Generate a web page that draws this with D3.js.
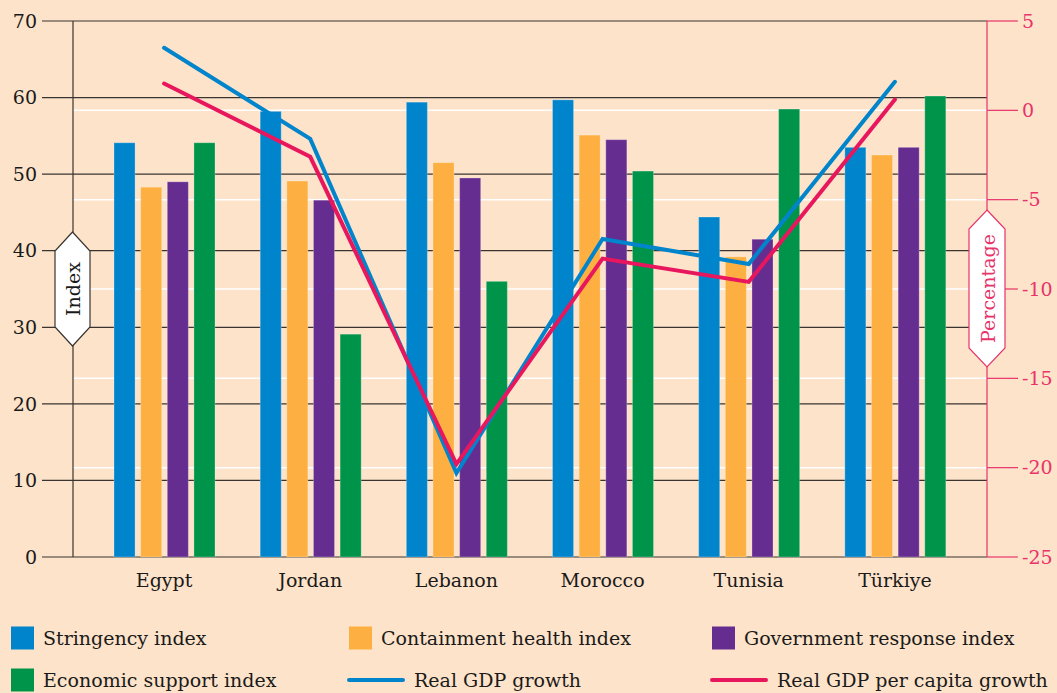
<!DOCTYPE html>
<html>
<head>
<meta charset="utf-8">
<script src="https://cdn.jsdelivr.net/npm/d3@7"></script>
<style>
  html, body { margin: 0; padding: 0; background: #fde3c9; }
  svg text { font-family: "DejaVu Serif", serif; }
</style>
</head>
<body>
<div id="chart"></div>
<script>
// data
var countries = ["Egypt", "Jordan", "Lebanon", "Morocco", "Tunisia", "Türkiye"];
var seriesNames = ["Stringency index", "Containment health index", "Government response index", "Economic support index"];
var stringency  = [54.1, 58.2, 59.4, 59.7, 44.4, 53.5];
var containment = [48.3, 49.1, 51.5, 55.1, 39.2, 52.5];
var government  = [49.0, 46.6, 49.5, 54.5, 41.5, 53.5];
var economic    = [54.1, 29.1, 36.0, 50.4, 58.5, 60.2];
var gdpGrowth   = [3.5, -1.6, -20.3, -7.2, -8.6, 1.6];
var gdpPerCap   = [1.5, -2.6, -19.8, -8.3, -9.6, 0.6];
var leftTicks  = [0, 10, 20, 30, 40, 50, 60, 70];
var rightTicks = [-25, -20, -15, -10, -5, 0, 5];

var barColors = ["#0085cc", "#fdb041", "#662d91", "#00934a"];
var blue = "#0085cc", pink = "#e8175d", axisPink = "#e8336b";

var W = 1057, H = 693;
var svg = d3.select("#chart").append("svg")
    .attr("width", W).attr("height", H);

svg.append("rect").attr("width", W).attr("height", H).attr("fill", "#fde3c9");

var plotL = 73, plotR = 987, plotT = 21, plotB = 557;

var yL = d3.scaleLinear().domain([0, 70]).range([plotB, plotT]);
var yR = d3.scaleLinear().domain([-25, 5]).range([plotB, plotT]);
var x = d3.scaleBand().domain(countries).range([91, 968]).padding(0);
var xSub = d3.scaleBand().domain(d3.range(4)).range([23, 124]).paddingInner(0.21).paddingOuter(0);

// white gridlines from the right axis
svg.append("g").selectAll("line")
    .data(rightTicks.filter(function(d){ return d > -25 && d < 5; }))
    .enter().append("line")
    .attr("x1", plotL).attr("x2", plotR)
    .attr("y1", function(d){ return yR(d); })
    .attr("y2", function(d){ return yR(d); })
    .attr("stroke", "#ffffff").attr("stroke-width", 1.5);

// dark gridlines + left ticks
svg.append("g").selectAll("line")
    .data(leftTicks)
    .enter().append("line")
    .attr("x1", 42).attr("x2", plotR)
    .attr("y1", function(d){ return yL(d); })
    .attr("y2", function(d){ return yL(d); })
    .attr("stroke", "#3a3430").attr("stroke-width", 1.2);

svg.append("line")
    .attr("x1", plotL).attr("x2", plotL).attr("y1", plotT).attr("y2", plotB)
    .attr("stroke", "#3a3430").attr("stroke-width", 1.2);

svg.append("g").selectAll("text")
    .data(leftTicks)
    .enter().append("text")
    .attr("x", 37)
    .attr("y", function(d){ return yL(d); })
    .attr("dy", "0.35em")
    .attr("text-anchor", "end")
    .attr("font-size", 19)
    .attr("fill", "#1a1a1a")
    .text(function(d){ return d; });

// bars
var data = [stringency, containment, government, economic];
var groups = svg.append("g").selectAll("g")
    .data(countries)
    .enter().append("g")
    .attr("transform", function(d){ return "translate(" + x(d) + ",0)"; });

groups.selectAll("rect")
    .data(function(c, i){ return data.map(function(s, k){ return {k: k, v: s[i]}; }); })
    .enter().append("rect")
    .attr("x", function(d){ return xSub(d.k); })
    .attr("width", xSub.bandwidth())
    .attr("y", function(d){ return yL(d.v); })
    .attr("height", function(d){ return yL(0) - yL(d.v); })
    .attr("fill", function(d){ return barColors[d.k]; })
    .attr("stroke", "#ffffff").attr("stroke-opacity", 0.25).attr("stroke-width", 1);

// category labels
svg.append("g").selectAll("text")
    .data(countries)
    .enter().append("text")
    .attr("x", function(d){ return x(d) + x.bandwidth() / 2; })
    .attr("y", 587)
    .attr("text-anchor", "middle")
    .attr("font-size", 19)
    .attr("fill", "#1a1a1a")
    .text(function(d){ return d; });

// right axis
svg.append("line")
    .attr("x1", plotR).attr("x2", plotR).attr("y1", plotT).attr("y2", plotB)
    .attr("stroke", axisPink).attr("stroke-width", 1.2);

svg.append("g").selectAll("line")
    .data(rightTicks)
    .enter().append("line")
    .attr("x1", plotR).attr("x2", 1018)
    .attr("y1", function(d){ return yR(d); })
    .attr("y2", function(d){ return yR(d); })
    .attr("stroke", axisPink).attr("stroke-width", 1.2);

svg.append("g").selectAll("text")
    .data(rightTicks)
    .enter().append("text")
    .attr("x", 1022)
    .attr("y", function(d){ return yR(d); })
    .attr("dy", "0.35em")
    .attr("font-size", 19)
    .attr("fill", axisPink)
    .text(function(d){ return d; });

// lines
var cx = function(i){ return x(countries[i]) + x.bandwidth() / 2; };
var line = d3.line()
    .x(function(d, i){ return cx(i); })
    .y(function(d){ return yR(d); });

svg.append("path").datum(gdpGrowth)
    .attr("d", line).attr("fill", "none")
    .attr("stroke", blue).attr("stroke-width", 4)
    .attr("stroke-linecap", "round").attr("stroke-linejoin", "miter");

svg.append("path").datum(gdpPerCap)
    .attr("d", line).attr("fill", "none")
    .attr("stroke", pink).attr("stroke-width", 4)
    .attr("stroke-linecap", "round").attr("stroke-linejoin", "miter");

// axis title badges
function badge(cxp, y0, y1, half, tip, stroke, color, label){
    var pts = [[cxp, y0], [cxp + half, y0 + tip], [cxp + half, y1 - tip], [cxp, y1],
               [cxp - half, y1 - tip], [cxp - half, y0 + tip]];
    svg.append("polygon")
        .attr("points", pts.map(function(p){ return p.join(","); }).join(" "))
        .attr("fill", "#ffffff").attr("stroke", stroke).attr("stroke-width", 1.2);
    svg.append("text")
        .attr("transform", "translate(" + (cxp + 1) + "," + ((y0 + y1) / 2) + ") rotate(-90)")
        .attr("text-anchor", "middle").attr("dy", "0.35em")
        .attr("font-size", 19).attr("fill", color)
        .text(label);
}
badge(72.5, 232, 346, 17.5, 19, "#3a3430", "#1a1a1a", "Index");
badge(987, 210, 367, 18, 19, axisPink, axisPink, "Percentage");

// legend
var legendItems = [
    {name: seriesNames[0], type: "rect", color: barColors[0], x: 11, y: 638},
    {name: seriesNames[1], type: "rect", color: barColors[1], x: 349, y: 638},
    {name: seriesNames[2], type: "rect", color: barColors[2], x: 712, y: 638},
    {name: seriesNames[3], type: "rect", color: barColors[3], x: 11, y: 680},
    {name: "Real GDP growth", type: "line", color: blue, x: 348, y: 680},
    {name: "Real GDP per capita growth", type: "line", color: pink, x: 711, y: 680}
];
var lg = svg.append("g").selectAll("g")
    .data(legendItems)
    .enter().append("g")
    .attr("transform", function(d){ return "translate(" + d.x + "," + d.y + ")"; });

lg.filter(function(d){ return d.type === "rect"; })
    .append("rect")
    .attr("x", 0).attr("y", -11.5).attr("width", 23).attr("height", 23)
    .attr("fill", function(d){ return d.color; });

lg.filter(function(d){ return d.type === "line"; })
    .append("line")
    .attr("x1", 1).attr("x2", 55).attr("y1", 0).attr("y2", 0)
    .attr("stroke", function(d){ return d.color; })
    .attr("stroke-width", 4).attr("stroke-linecap", "round");

lg.append("text")
    .attr("x", function(d){ return d.type === "rect" ? 32 : 66; })
    .attr("y", 0).attr("dy", "0.35em")
    .attr("font-size", 19).attr("fill", "#1a1a1a")
    .text(function(d){ return d.name; });
</script>
</body>
</html>
